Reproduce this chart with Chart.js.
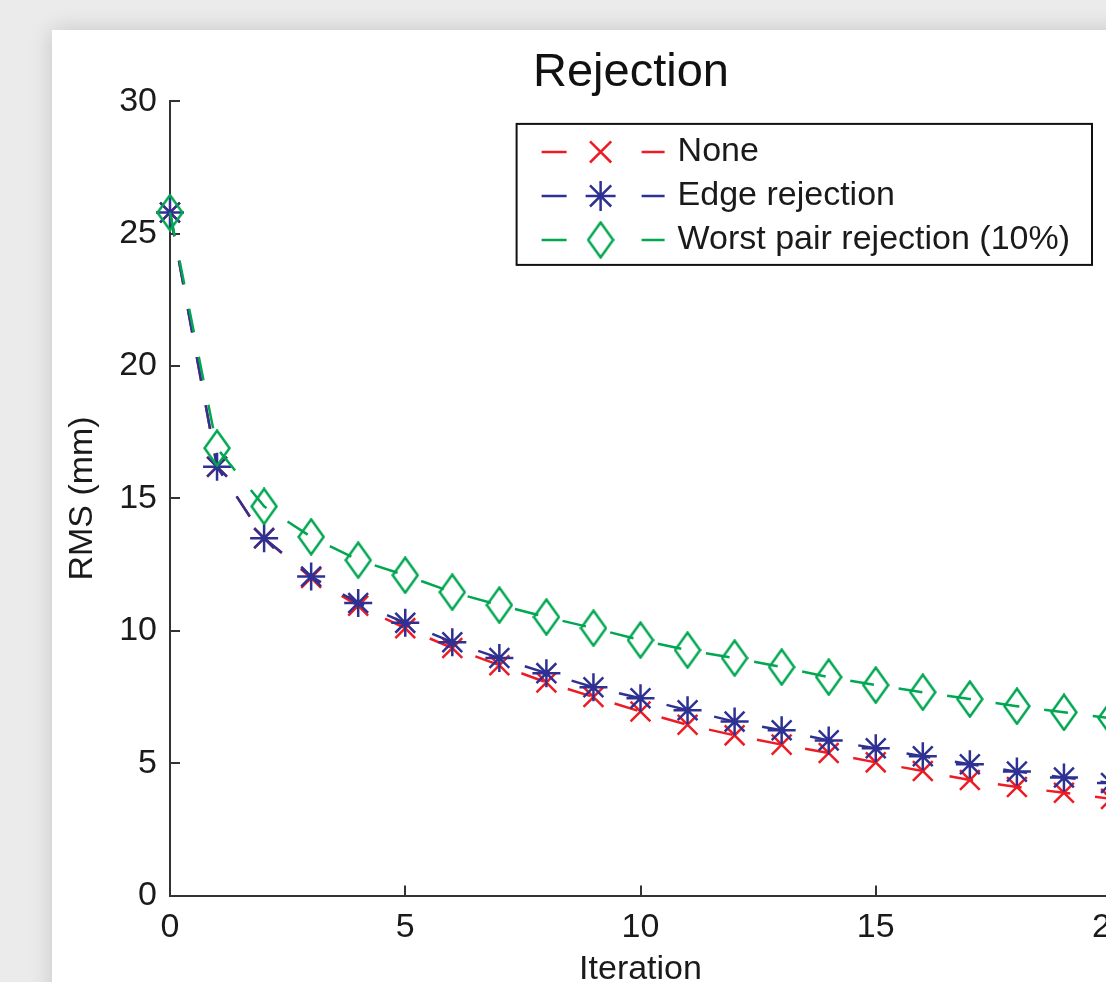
<!DOCTYPE html>
<html>
<head>
<meta charset="utf-8">
<script src="https://cdn.jsdelivr.net/npm/chart.js@4.4.1/dist/chart.umd.min.js"></script>
<style>
html,body{margin:0;padding:0;background:#ebebeb;overflow:hidden;width:1106px;height:982px;}
.panel{position:absolute;left:52px;top:30px;width:1160px;height:1000px;background:#fff;box-shadow:0 0 22px rgba(0,0,0,0.16);}
</style>
</head>
<body>
<div class="panel"><canvas id="myChart" width="1160" height="1000"></canvas></div>
<script>
// data
const iterations=[0,1,2,3,4,5,6,7,8,9,10,11,12,13,14,15,16,17,18,19,20];
const noneRms=[25.8,16.2,13.5,12.0,10.95,10.1,9.35,8.7,8.05,7.5,6.95,6.45,6.05,5.7,5.38,5.03,4.7,4.36,4.1,3.88,3.65];
const edgeRms=[25.8,16.2,13.5,12.05,11.05,10.3,9.57,8.97,8.4,7.87,7.45,7.0,6.57,6.24,5.86,5.56,5.26,4.96,4.68,4.46,4.25];
const worstRms=[25.8,16.9,14.7,13.55,12.67,12.1,11.46,10.97,10.52,10.1,9.65,9.27,8.97,8.63,8.25,7.95,7.68,7.42,7.15,6.92,6.7];
const xTickValues=[0,5,10,15,20];
const yTickValues=[0,5,10,15,20,25,30];
const seriesLabels=['None','Edge rejection','Worst pair rejection (10%)'];

const RED='#ed1c24', BLUE='#2e3192', GREEN='#00a651';
const FONT="'Liberation Sans', Arial, Helvetica, sans-serif";
Chart.defaults.font.family=FONT;
Chart.defaults.color='#1a1a1a';

// tall open diamond like the matlab 'd' marker
function makeDiamond(color){
    const c=document.createElement('canvas');
    c.width=28;c.height=38;
    const g=c.getContext('2d');
    g.strokeStyle=color;g.lineWidth=2.5;
    g.beginPath();
    g.moveTo(14,1.5);g.lineTo(26.5,19);g.lineTo(14,36.5);g.lineTo(1.5,19);
    g.closePath();g.stroke();
    return c;
}
const diamond=makeDiamond(GREEN);

function toPoints(ys){
    return iterations.map((x,i)=>({x:x,y:ys[i]}));
}

// legend drawn in the boxed "— marker —  label" style
const boxLegend={
    id:'boxLegend',
    afterDraw(chart){
        const {ctx,chartArea}=chart;
        const ds=chart.data.datasets;
        ctx.save();
        ctx.font='34px '+FONT;
        const textW=Math.max(...ds.map(d=>ctx.measureText(d.label).width));
        const w=161+textW+22, h=28+44*(ds.length-1)+25;
        const right=chartArea.right-19, top=chartArea.top+22.5;
        const left=right-w;
        ctx.fillStyle='#fff';
        ctx.fillRect(left,top,w,h);
        ctx.strokeStyle='#111';ctx.lineWidth=2;
        ctx.strokeRect(left,top,w,h);
        ds.forEach((d,i)=>{
            const y=top+28+44*i;
            ctx.strokeStyle=d.borderColor;ctx.lineWidth=2.5;ctx.setLineDash([]);
            ctx.beginPath();
            ctx.moveTo(left+25,y);ctx.lineTo(left+50,y);
            ctx.moveTo(left+125,y);ctx.lineTo(left+148,y);
            ctx.stroke();
            ctx.strokeStyle=d.pointBorderColor;
            Chart.helpers.drawPoint(ctx,{pointStyle:d.pointStyle,radius:d.pointRadius+1,borderWidth:2.5,rotation:0},left+84,y);
            ctx.fillStyle='#1a1a1a';
            ctx.textBaseline='middle';ctx.textAlign='left';
            ctx.fillText(d.label,left+161,y);
        });
        ctx.restore();
    }
};

// title sits a little left of the plot centre in the original
const titleNudge={
    id:'titleNudge',
    afterLayout(chart){
        const t=chart.titleBlock;
        if(t){t.left-=9.5;t.right-=9.5;}
    }
};

function makeSet(label,ys,color,style,radius,order){
    return {
        label:label,
        data:toPoints(ys),
        borderColor:color,
        backgroundColor:'transparent',
        pointBorderColor:color,
        pointBackgroundColor:'transparent',
        pointStyle:style,
        pointRadius:radius,
        pointBorderWidth:2.5,
        borderWidth:2.5,
        borderDash:[24,25],
        tension:0,
        clip:false,
        order:order
    };
}

const ctx=document.getElementById('myChart').getContext('2d');
const myChart=new Chart(ctx,{
    type:'line',
    data:{
        datasets:[
            makeSet(seriesLabels[0],noneRms,RED,'crossRot',14,3),
            makeSet(seriesLabels[1],edgeRms,BLUE,'star',14,2),
            makeSet(seriesLabels[2],worstRms,GREEN,diamond,15,1)
        ]
    },
    options:{
        responsive:false,
        animation:false,
        events:[],
        layout:{padding:{left:0,right:101,top:15,bottom:0}},
        scales:{
            x:{
                type:'linear',
                min:0,max:20,
                afterBuildTicks:s=>{s.ticks=xTickValues.map(v=>({value:v}));},
                afterFit:s=>{s.height=134.5;},
                border:{display:true,color:'#333',width:2},
                grid:{drawOnChartArea:false,tickLength:-10,color:'#333',lineWidth:2},
                ticks:{font:{size:34},padding:22,maxRotation:0,color:'#1a1a1a'},
                title:{display:true,text:'Iteration',font:{size:34},padding:{top:0,bottom:40},color:'#1a1a1a'}
            },
            y:{
                min:0,max:30,
                afterBuildTicks:s=>{s.ticks=yTickValues.map(v=>({value:v}));},
                afterFit:s=>{s.width=118;},
                border:{display:true,color:'#333',width:2},
                grid:{drawOnChartArea:false,tickLength:-10,color:'#333',lineWidth:2},
                ticks:{font:{size:34},padding:23,color:'#1a1a1a'},
                title:{display:true,text:'RMS (mm)',font:{size:34},padding:{top:10,bottom:0},color:'#1a1a1a'}
            }
        },
        plugins:{
            legend:{display:false},
            tooltip:{enabled:false},
            title:{display:true,text:'Rejection',fullSize:false,font:{size:47,weight:'normal'},padding:{top:0,bottom:0},color:'#111'}
        }
    },
    plugins:[boxLegend,titleNudge]
});
</script>
</body>
</html>
